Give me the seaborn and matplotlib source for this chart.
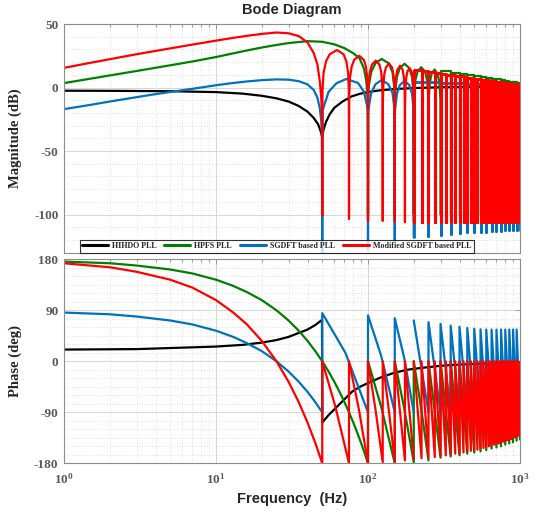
import matplotlib
matplotlib.use('Agg')
import matplotlib.pyplot as plt
import seaborn as sns
from matplotlib.lines import Line2D
from matplotlib.ticker import FixedLocator, LogLocator, MultipleLocator, FuncFormatter, NullFormatter

# ---- data ----------------------------------------------------------------
labels = ['HIHDO PLL', 'HPFS PLL', 'SGDFT based PLL', 'Modified SGDFT based PLL']
colors = ['#000000', '#008000', '#0072BD', '#FF0000']

# magnitude, black (one smooth curve, single notch at 50 Hz)
black_mag_hz = [1, 2, 5, 10, 15, 20, 25, 30, 35, 40, 44, 47, 49, 50, 51, 53, 56, 60, 68, 78, 88,
                100, 120, 150, 200, 300, 500, 1000]
black_mag_db = [-2.5, -2.6, -2.9, -3.6, -4.8, -6.5, -8.5, -11, -14.5, -19, -24, -29, -35, -39, -33,
                -27, -21, -16, -11, -7, -5, -3.5, -2.2, -1.2, -0.4, 0.2, 0.5, 0.7]

# magnitude, green: drawn lobes up to 300 Hz, then lobe tops
green_mag_hz = [1, 1.5, 2, 3, 5, 7, 10, 15, 20, 25, 30, 40, 50, 60, 70, 80, 88, 94, 97.5, 99.2, 99.8, 100,
                100.3, 101.5, 105, 112, 123, 137, 145, 148.5, 149.7, 150,
                150.3, 151.5, 155, 162, 174, 187, 195, 198.5, 199.7, 200,
                200.3, 201.5, 205, 212, 224, 237, 245, 248.5, 249.7, 250,
                250.3, 251.5, 255, 262, 274, 287, 295, 298.5, 299.7, 300]
green_mag_db = [3.5, 7, 9.5, 13, 17.5, 20.5, 24, 28.5, 31.5, 33.5, 35, 36.5, 36, 34, 31, 27, 23, 15, 5, -8, -20, -100,
                -2, 2, 12.3, 19.2, 22.5, 19, 12, 1.5, -2.5, -100,
                -6, -2, 8.5, 15.4, 18.7, 15.2, 8.3, -2, -6, -100,
                -8.5, -4.5, 5.8, 12.7, 16, 12.6, 5.7, -4.6, -8.6, -100,
                -10.3, -6.3, 4, 10.9, 14.2, 10.8, 3.9, -6.4, -10.4, -100]
green_notch_hz = [300, 350, 400, 450, 500, 550, 600, 650, 700, 750, 800, 850, 900, 950, 1000]
green_notch_db = [-100, -100, -100, -100, -100, -100, -100, -100, -100, -100, -100, -100, -100, -100, -100]
green_lobe_db = [12.7, 11.5, 10.6, 9.8, 9.0, 8.3, 7.6, 7.0, 6.4, 5.8, 5.2, 4.7, 4.2, 3.7]

# magnitude, blue
blue_mag_hz = [1, 1.5, 2, 3, 4, 5, 7, 10, 13, 16, 20, 25, 30, 35, 40, 44, 46.5, 48.3, 49.3, 49.8, 50,
               50.3, 51.5, 55, 62, 72, 86, 94, 98.5, 99.7, 100,
               100.3, 101.5, 105, 112, 123, 136, 145, 148.5, 149.7, 150,
               150.3, 151.5, 155, 162, 174, 187, 195, 198.5, 199.7, 200]
blue_mag_db = [-17, -13.6, -11, -7.6, -5.2, -3.5, -1.0, 1.8, 3.6, 4.8, 5.8, 6.4, 6.2, 5.0, 2.5, -2, -8, -17, -27, -40, -135,
               -18, -14, -3.5, 3.4, 6.7, 3.6, -3.3, -14, -18, -128,
               -18.6, -14.6, -4.3, 2.6, 5.9, 2.6, -4.3, -14.6, -18.6, -122,
               -19.3, -15.3, -5, 1.9, 5.2, 1.9, -5, -15.3, -19.3, -118]
blue_notch_hz = [200, 250, 300, 350, 400, 450, 500, 550, 600, 650, 700, 750, 800, 850, 900, 950, 1000]
blue_notch_db = [-118, -117, -116, -115, -114.5, -114, -114, -113.5, -113.5, -113, -113, -113, -112.5,
                 -112.5, -112.5, -112, -112]
blue_lobe_db = [4.6, 4.2, 3.9, 3.6, 3.3, 3.0, 2.8, 2.6, 2.4, 2.2, 2.0, 1.8, 1.6, 1.4, 1.2, 1.0]

# magnitude, red: drawn lobes up to 200 Hz, then lobe tops every 25 Hz
red_mag_hz = [1, 1.5, 2, 3, 4, 5, 7, 10, 13, 16, 20, 25, 30, 35, 40, 44, 46.5, 48.3, 49.3, 49.8, 50,
              50.2, 51, 53, 56, 62.5, 69, 72, 74, 74.8, 75,
              75.2, 76, 78, 81, 87.5, 94, 97, 99, 99.8, 100,
              100.2, 101, 103, 106, 112.5, 119, 122, 124, 124.8, 125,
              125.2, 126, 128, 131, 137.5, 144, 147, 149, 149.8, 150,
              150.2, 151, 153, 156, 162.5, 169, 172, 174, 174.8, 175,
              175.2, 176, 178, 181, 187.5, 194, 197, 199, 199.8, 200]
red_mag_db = [15.5, 19.5, 22.3, 26.2, 28.8, 30.8, 33.8, 36.9, 39.1, 40.7, 42.2, 43.3, 42.7, 40.5, 35.5, 27, 18, 4, -9, -23, -101,
              -2.5, 11.5, 20.8, 26.2, 29.5, 26.2, 20.8, 11.5, -2.5, -103.5,
              -7, 7, 16.3, 21.7, 25, 21.7, 16.3, 7, -7, -105,
              -10.8, 3.2, 12.5, 17.9, 21.2, 17.9, 12.5, 3.2, -10.8, -105,
              -13, 1, 10.3, 15.7, 19, 15.7, 10.3, 1, -13, -105.5,
              -14.8, -0.8, 8.5, 13.9, 17.2, 13.9, 8.5, -0.8, -14.8, -106,
              -16.6, -2.6, 6.7, 12.1, 15.4, 12.1, 6.7, -2.6, -16.6, -106]
red_notch_hz = [200, 225, 250, 275, 300, 325, 350, 375, 400, 425, 450, 475, 500, 525, 550, 575, 600,
                625, 650, 675, 700, 725, 750, 775, 800, 825, 850, 875, 900, 925, 950, 975, 1000]
red_notch_db = [-106, -106, -106, -106, -106, -106, -106, -106, -106, -106, -106, -106, -106, -106, -106,
                -106, -106, -106, -106, -106, -106, -106, -106, -106, -106, -106, -106, -106, -106, -106,
                -106, -106, -106]
red_lobe_db = [13.8, 12.9, 12.2, 11.5, 10.8, 10.2, 9.7, 9.2, 8.7, 8.3, 7.8, 7.4, 7.0, 6.7, 6.3, 6.0,
               5.7, 5.4, 5.1, 4.8, 4.5, 4.3, 4.0, 3.8, 3.5, 3.3, 3.1, 2.9, 2.7, 2.4, 2.2, 2.0]

# phase, black
black_ph_hz = [1, 3, 10, 15, 20, 25, 30, 35, 40, 45, 49.8, 50.05, 55, 61, 70, 79, 90, 100, 120, 147, 180,
               222, 300, 393, 600, 1000]
black_ph_deg = [20.7, 21.5, 26, 29, 33, 37.5, 43, 50, 56, 64, 73, -108, -95, -83, -67, -53, -44, -38.5,
                -29, -20.7, -15, -11.8, -8, -5.9, -4, -2.5]

# phase, green
green_ph_hz = [1, 2, 3, 5, 7, 10, 13, 16, 20, 25, 30, 35, 40, 45, 50, 55, 60, 65, 70, 75, 80, 85, 90, 95, 100,
               100, 122, 150, 150, 173, 200, 200, 224, 250]
green_ph_deg = [176, 173, 169, 162, 155, 144, 133, 122, 108, 90, 72, 54, 36, 18, 0, -18, -36, -54, -72, -90,
                -108, -126, -144, -162, -180, 0, -80, -180, 0, -83, -178, 0, -84, -175]
green_tooth_hz = [250, 300, 350, 400, 450, 500, 550, 600, 650, 700, 750, 800, 850, 900, 950, 1000]
green_tooth_top = [0, 0, 0, 0, 0, 0, 0, 0, 0, 0, 0, 0, 0, 0, 0, 0]
green_tooth_low = [-170, -168, -166, -163, -161, -159, -157, -154, -152, -150, -147, -145, -143, -140, -138]

# phase, blue
blue_ph_hz = [1, 2, 3, 5, 7, 10, 13, 16, 20, 25, 30, 35, 40, 45, 50, 50, 71, 100, 100, 122, 150, 150, 173, 200]
blue_ph_deg = [86, 83, 79, 72, 65, 54, 43, 32, 18, 0, -18, -36, -54, -72, -90, 85, 15, -90, 81, 10, -90, 76, 6, -90]
blue_tooth_hz = [200, 250, 300, 350, 400, 450, 500, 550, 600, 650, 700, 750, 800, 850, 900, 950, 1000]
blue_tooth_top = [72, 69, 66, 63, 61, 59, 57.5, 56.5, 56, 56, 56, 56, 56, 56, 56, 56, 56]
blue_tooth_low = [-90, -90, -90, -90, -90, -90, -90, -90, -90, -90, -90, -90, -90, -90, -90, -90]

# phase, red
red_ph_hz = [1, 2, 3, 5, 7, 10, 13, 16, 20, 25, 30, 35, 40, 45, 50, 50, 61, 75, 75, 87, 100, 100, 112, 125,
             125, 137, 150, 150, 162, 175, 175, 187, 200]
red_ph_deg = [173, 166, 158, 144, 130, 108, 86, 65, 36, 0, -36, -72, -108, -144, -180, 0, -80, -180, 0, -84,
              -180, 0, -85, -178, 0, -86, -177, 0, -86, -175, 0, -86, -173]
red_tooth_hz = red_notch_hz
red_tooth_top = [0, 0, 0, 0, 0, 0, 0, 0, 0, 0, 0, 0, 0, 0, 0, 0, 0, 0, 0, 0, 0, 0, 0, 0, 0, 0, 0, 0, 0, 0,
                 0, 0, 0]
red_tooth_low = [-171, -170, -169, -167, -166, -165, -163, -162, -161, -159, -158, -157, -156, -154, -153,
                 -151, -150, -149, -147, -146, -145, -143, -142, -141, -139, -138, -137, -135, -134, -133,
                 -131, -130]


def steps(notch_hz, notch_db, lobe_db):
    # lobes too narrow to show shape: spike at each notch, flat top per lobe
    xs, ys = [], []
    for k, top in enumerate(lobe_db):
        xs += [notch_hz[k], notch_hz[k], notch_hz[k + 1]]
        ys += [notch_db[k], top, top]
    xs.append(notch_hz[-1])
    ys.append(notch_db[-1])
    return xs, ys


def teeth(notch_hz, top_deg, low_deg):
    xs, ys = [], []
    for k, low in enumerate(low_deg):
        xs += [notch_hz[k], notch_hz[k + 1]]
        ys += [top_deg[k], low]
    return xs, ys


# ---- style ----------------------------------------------------------------
sns.set_style('white')
plt.rcParams['font.family'] = ['Liberation Serif', 'DejaVu Sans']
plt.rcParams['mathtext.fontset'] = 'custom'
plt.rcParams['mathtext.rm'] = 'Liberation Serif'
plt.rcParams['mathtext.bf'] = 'Liberation Serif:bold'

fig = plt.figure(figsize=(5.37, 5.15), dpi=100)
ax_mag = fig.add_axes([64 / 537, 1 - 252.7 / 515, 456 / 537, 228.7 / 515])
ax_ph = fig.add_axes([64 / 537, 1 - 463.3 / 515, 456 / 537, 204 / 515])

lw = 1.6
kw = dict(sort=False, estimator=None, legend=False)

# magnitude
sns.lineplot(x=black_mag_hz, y=black_mag_db, color=colors[0], lw=lw, ax=ax_mag, **kw)
sns.lineplot(x=green_mag_hz, y=green_mag_db, color=colors[1], lw=lw, ax=ax_mag, **kw)
gx, gy = steps(green_notch_hz, green_notch_db, green_lobe_db)
sns.lineplot(x=gx, y=gy, color=colors[1], lw=lw, ax=ax_mag, **kw)
sns.lineplot(x=blue_mag_hz, y=blue_mag_db, color=colors[2], lw=lw, ax=ax_mag, **kw)
bx, by = steps(blue_notch_hz, blue_notch_db, blue_lobe_db)
sns.lineplot(x=bx, y=by, color=colors[2], lw=lw + 0.4, ax=ax_mag, **kw)
sns.lineplot(x=red_mag_hz, y=red_mag_db, color=colors[3], lw=lw, ax=ax_mag, **kw)
rx, ry = steps(red_notch_hz, red_notch_db, red_lobe_db)
sns.lineplot(x=rx, y=ry, color=colors[3], lw=lw + 0.6, ax=ax_mag, **kw)

# phase
sns.lineplot(x=black_ph_hz, y=black_ph_deg, color=colors[0], lw=lw, ax=ax_ph, **kw)
sns.lineplot(x=green_ph_hz, y=green_ph_deg, color=colors[1], lw=lw, ax=ax_ph, **kw)
gx, gy = teeth(green_tooth_hz, green_tooth_top, green_tooth_low)
sns.lineplot(x=gx, y=gy, color=colors[1], lw=lw, ax=ax_ph, **kw)
sns.lineplot(x=blue_ph_hz, y=blue_ph_deg, color=colors[2], lw=lw, ax=ax_ph, **kw)
bx, by = teeth(blue_tooth_hz, blue_tooth_top, blue_tooth_low)
sns.lineplot(x=bx, y=by, color=colors[2], lw=lw, ax=ax_ph, **kw)
sns.lineplot(x=red_ph_hz, y=red_ph_deg, color=colors[3], lw=lw, ax=ax_ph, **kw)
rx, ry = teeth(red_tooth_hz, red_tooth_top, red_tooth_low)
sns.lineplot(x=rx, y=ry, color=colors[3], lw=lw, ax=ax_ph, **kw)

tick_grey = '#5a5a5a'
for ax in (ax_mag, ax_ph):
    ax.set_xscale('log')
    ax.set_xlim(1, 1000)
    ax.xaxis.set_major_locator(FixedLocator([1, 10, 100, 1000]))
    ax.xaxis.set_minor_locator(LogLocator(base=10, subs=range(2, 10)))
    ax.xaxis.set_minor_formatter(NullFormatter())
    ax.grid(which='major', color='#d6d6d6', lw=0.7, ls='-')
    ax.grid(which='minor', color='#d6d6d6', lw=0.6, ls=(0, (1, 2)))
    ax.set_axisbelow(True)
    ax.tick_params(which='both', direction='in', top=True, right=True, color='#8c8c8c',
                   labelcolor=tick_grey, labelsize=9.5, width=0.6)
    ax.tick_params(which='major', length=3.5, pad=4)
    ax.tick_params(which='minor', length=2)
    ax.tick_params(axis='y', which='minor', length=0)
    for s in ax.spines.values():
        s.set_color('#8c8c8c')
        s.set_linewidth(0.8)
    ax.set_xlabel('')
    ax.set_ylabel('')

ax_mag.set_ylim(-130, 50)
ax_mag.yaxis.set_major_locator(FixedLocator([-100, -50, 0, 50]))
ax_mag.yaxis.set_minor_locator(MultipleLocator(10))
ax_mag.xaxis.set_major_formatter(NullFormatter())

ax_ph.set_ylim(-180, 180)
ax_ph.yaxis.set_major_locator(FixedLocator([-180, -90, 0, 90, 180]))
ax_ph.yaxis.set_minor_locator(MultipleLocator(15))
ax_ph.xaxis.set_major_formatter(FuncFormatter(lambda v, p: r'$\mathbf{10^{%d}}$' % round(__import__('math').log10(v))))
ax_ph.tick_params(axis='x', which='major', pad=6)

for ax in (ax_mag, ax_ph):
    ax.set_yticklabels([str(int(t)) for t in ax.get_yticks()], fontweight='bold')

ax_mag.set_ylabel('Magnitude (dB)', fontweight='bold', fontsize=10.5)
ax_mag.yaxis.set_label_coords(-0.092, 0.5)
ax_ph.set_ylabel('Phase (deg)', fontweight='bold', fontsize=10.5)
ax_ph.yaxis.set_label_coords(-0.092, 0.5)
ax_ph.set_xlabel('Frequency  (Hz)', fontweight='bold', fontsize=10.5, family='Liberation Sans')
ax_ph.xaxis.set_label_coords(0.5, -0.14)
fig.text(292 / 537, 1 - 10 / 515, 'Bode Diagram', ha='center', va='center',
         fontweight='bold', fontsize=10.5, family='Liberation Sans')

handles = [Line2D([], [], color=c, lw=2.2) for c in colors]
leg = ax_mag.legend(handles, labels, loc='lower center', bbox_to_anchor=(0.4664, 0.0), ncol=4,
                    frameon=True, fancybox=False, borderaxespad=0, handlelength=3.2,
                    handletextpad=0.5, columnspacing=1.0, borderpad=0.3,
                    prop={'family': 'Liberation Serif', 'weight': 'bold', 'size': 5.8})
leg.get_frame().set_edgecolor('#000000')
leg.get_frame().set_linewidth(0.8)

fig.savefig('out.png', dpi=100)
